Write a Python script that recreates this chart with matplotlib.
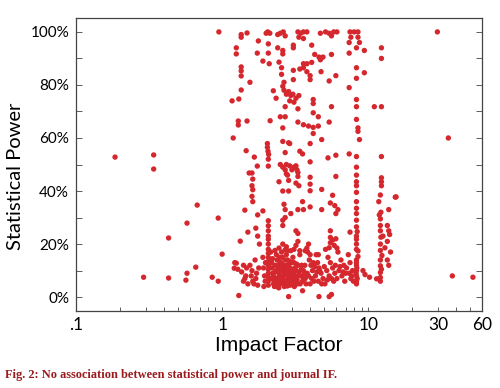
import numpy as np
import matplotlib
matplotlib.use("Agg")
import matplotlib.pyplot as plt
from matplotlib.ticker import FixedLocator, FuncFormatter, LogLocator, NullFormatter

# [impact factor, statistical power %], grouped by region
sparse_left = [[0.185, 52.8], [0.34, 53.6], [0.34, 48.3], [0.95, 100], [0.29, 7.5],
               [0.43, 22.3], [0.43, 7.2], [0.575, 27.9], [0.575, 9.0], [0.565, 6.4],
               [0.675, 34.7], [0.66, 11.3], [0.855, 7.5], [0.94, 29.8], [0.94, 6.0],
               [1.0, 16.2]]

near_one = [[1.25, 94], [1.25, 91.7], [1.35, 99], [1.35, 98], [1.48, 99.6], [1.35, 86.8],
            [1.35, 85.3], [1.35, 83.4], [1.35, 78.1], [1.17, 74], [1.30, 74.7], [1.55, 81],
            [1.29, 66.4], [1.29, 64.9], [1.48, 66.4], [1.19, 60], [1.46, 55.2], [1.53, 46.8],
            [1.33, 21.1], [1.30, 0.6], [1.25, 12.8], [1.21, 10.9], [1.43, 32.8], [1.50, 24.5],
            [1.43, 7], [1.22, 13], [1.28, 10.5], [1.36, 9.5], [1.40, 12], [1.45, 8],
            [1.40, 6], [1.50, 5], [1.47, 11]]

top_band = [[2.0, 99.5], [2.05, 100], [2.12, 99.5], [2.4, 99], [2.5, 99.5], [2.62, 100],
            [2.7, 98.5], [3.3, 100], [3.45, 99.5], [3.6, 100], [3.8, 100], [3.35, 98],
            [3.6, 97.5], [4.7, 99.5], [5.1, 100], [5.4, 99.5], [5.6, 98.5], [5.8, 100],
            [6.1, 100], [7.5, 100], [8.0, 100], [8.5, 100], [7.6, 98], [8.5, 98],
            [1.77, 96.6], [2.07, 95.5], [1.74, 92], [2.07, 92], [2.4, 94], [2.6, 93],
            [2.6, 91.7], [3.07, 95], [3.07, 94], [4.1, 95], [4.3, 91.5], [4.6, 90.5],
            [4.9, 90.5], [4.7, 89.5], [4.1, 88.5], [3.8, 88], [5.6, 91.5], [7.4, 96],
            [7.4, 92], [8.3, 94], [8.7, 96], [9.4, 93], [12.3, 94], [12.3, 90], [29.7, 100],
            [1.9, 89], [2.1, 88], [2.45, 88.6]]

upper_band = [[2.55, 86.5], [2.55, 84], [3.07, 85.5], [3.07, 82], [3.4, 86], [3.6, 88],
              [3.6, 86.5], [3.8, 85], [4.0, 83.5], [4.0, 82], [4.75, 85], [5.4, 81.5],
              [6.0, 83.5], [8.3, 86.5], [8.3, 82.5], [9.4, 84.6], [7.4, 79],
              [2.65, 81], [2.6, 79.5], [2.65, 78], [2.75, 76.5], [2.85, 77.5], [2.95, 76],
              [3.05, 76.5], [3.2, 75], [2.24, 77.8], [2.34, 75], [3.35, 76], [2.9, 74],
              [3.1, 73.5], [4.2, 74.5], [4.2, 73], [2.7, 71.8], [3.3, 71], [5.6, 71.8],
              [8.3, 74.5], [8.3, 71.8], [11.0, 71.8], [12.3, 71.8],
              [2.13, 66.5], [2.5, 68], [2.7, 68], [2.6, 63.8], [4.2, 69.5], [4.55, 68],
              [3.3, 66], [3.6, 65], [3.9, 64.5], [4.2, 64], [4.55, 64.5], [4.2, 61.7],
              [5.4, 66], [8.3, 67], [8.5, 63.8], [8.5, 62.5], [8.7, 59.4], [2.6, 58.7],
              [2.85, 58.2], [2.9, 57.9], [4.0, 57.9], [4.8, 59.4], [2.04, 57.9],
              [2.04, 56.5], [2.06, 55], [2.08, 53.8], [35.3, 60]]

mid_band = [[1.66, 52.8], [1.74, 49.4], [1.6, 46.8], [1.62, 44.5], [1.62, 40.5], [2.07, 52],
            [2.07, 49.4], [2.5, 50], [2.6, 49], [2.7, 48], [2.75, 50], [2.9, 49.5],
            [3.0, 48], [3.1, 49], [3.2, 49.5], [3.25, 48], [3.3, 47], [3.3, 45.5],
            [2.75, 46.5], [2.8, 46], [2.7, 54.5], [3.4, 55], [3.55, 54], [4.0, 51],
            [5.3, 52.5], [6.0, 53.5], [7.4, 54], [8.3, 53], [8.3, 49], [8.3, 46],
            [8.3, 43.5], [8.3, 42], [8.3, 39.5], [12.3, 53], [12.3, 45], [12.3, 43.5],
            [12.3, 42], [12.1, 38.5], [15.5, 37.8], [4.0, 45.2], [4.0, 42.6], [4.0, 40.1],
            [3.35, 42], [4.8, 40.6], [5.7, 38.4], [6.0, 45.5], [2.45, 43.5], [2.6, 40],
            [2.85, 40], [2.85, 44], [3.2, 43], [1.6, 42], [1.6, 38], [1.62, 36]]

lower_band = [[2.65, 35], [2.7, 33], [2.7, 30], [2.95, 31.5], [3.3, 33], [3.55, 36],
              [3.6, 33], [4.0, 34], [4.8, 33], [5.5, 35.5], [5.9, 34.5], [6.0, 31.5],
              [6.2, 33], [8.3, 36], [8.3, 33.5], [8.3, 31.5], [11.8, 36], [12.2, 32],
              [11.9, 31], [1.75, 31], [1.9, 32.5],
              [2.07, 28.8], [2.07, 26.9], [2.07, 25], [2.07, 23], [2.07, 21.8], [2.07, 20],
              [2.07, 18], [2.07, 16.5], [2.07, 15], [2.07, 13.5], [2.07, 12], [2.07, 10.5],
              [2.07, 9], [2.07, 7.5], [2.07, 6], [2.07, 4.5],
              [1.7, 26], [1.75, 23], [1.8, 20], [2.6, 29], [2.6, 27], [2.3, 17.6],
              [2.45, 18.5], [2.6, 20], [2.7, 17.8], [2.75, 19], [2.8, 17.5], [3.2, 25],
              [3.3, 24], [3.3, 21], [2.95, 17.5], [3.1, 18], [3.2, 19.5], [3.4, 17.5],
              [3.9, 20], [3.8, 18.5], [3.7, 17.5], [4.0, 16], [4.55, 16], [5.5, 25],
              [5.5, 22.5], [5.5, 20.5], [5.4, 18.6], [5.7, 21.5], [6.0, 22], [5.85, 19.5],
              [6.1, 18.5], [7.5, 24.5],
              [8.3, 29], [8.3, 26.5], [8.4, 24.7], [8.3, 23], [8.3, 21.8], [8.3, 20],
              [8.3, 18], [8.5, 17.4], [8.5, 15.3],
              [12.1, 29.5], [12.1, 27], [12.1, 25], [12.2, 22.6], [12.1, 20], [12.1, 17.6],
              [12.4, 15.7], [12.1, 14], [12.1, 11.8], [12.3, 10.5], [12.1, 9.3], [12.1, 7.4],
              [12.1, 6], [13.5, 27], [13.8, 25], [13.5, 21], [14.2, 17], [13.5, 14],
              [12.6, 23], [13.0, 18.6], [15.3, 37.7], [13.8, 33], [14.0, 23.6], [13.8, 12]]

dense_band = [[1.55, 12], [1.6, 10], [1.58, 8], [1.62, 6], [1.65, 5], [1.7, 7], [1.72, 9],
              [1.68, 14], [1.75, 4.5], [1.78, 11],
              [1.9, 15], [1.92, 11], [1.95, 8], [1.97, 6], [1.93, 4], [1.98, 13],
              [2.15, 17], [2.18, 13], [2.2, 11], [2.22, 9], [2.17, 7], [2.25, 5], [2.28, 4],
              [2.3, 12], [2.24, 8], [2.27, 6],
              [2.35, 16], [2.38, 14], [2.4, 12], [2.42, 11], [2.36, 10], [2.45, 9], [2.48, 8],
              [2.33, 7], [2.4, 6], [2.46, 5], [2.38, 4], [2.44, 3.5], [2.5, 13], [2.47, 15],
              [2.55, 17], [2.58, 15], [2.52, 13], [2.6, 12], [2.64, 11], [2.56, 10], [2.67, 9],
              [2.62, 8], [2.54, 7], [2.69, 6], [2.6, 5], [2.66, 4], [2.7, 14],
              [2.75, 16], [2.8, 14], [2.85, 12], [2.9, 11], [2.78, 10], [2.95, 9], [2.88, 8],
              [2.82, 7], [2.97, 6], [2.76, 5], [2.92, 4.5], [3.0, 13],
              [3.05, 15], [3.1, 13], [3.15, 11], [3.2, 10], [3.25, 8], [3.08, 7], [3.18, 6],
              [3.28, 5], [3.12, 4], [3.3, 12],
              [3.4, 16], [3.5, 12], [3.6, 10], [3.45, 8], [3.7, 7], [3.55, 6], [3.75, 5],
              [3.65, 9],
              [3.85, 17], [3.95, 14], [4.05, 12], [4.15, 10], [3.9, 8], [4.1, 7], [4.25, 6],
              [4.0, 5], [4.2, 13], [3.82, 9],
              [4.4, 16], [4.5, 13], [4.6, 11], [4.75, 9], [4.35, 8], [4.9, 7], [4.55, 6],
              [4.8, 5], [4.65, 10],
              [5.1, 18], [5.3, 15], [5.5, 13], [5.7, 11], [5.2, 10], [5.9, 9], [5.4, 8],
              [5.6, 7], [5.8, 6], [5.05, 5], [5.95, 12],
              [6.2, 17], [6.5, 14], [6.8, 12], [6.3, 10], [7.0, 9], [6.6, 8], [6.1, 7],
              [6.9, 6], [7.1, 11],
              [7.3, 16], [7.5, 13], [7.8, 10], [7.4, 9], [7.6, 7], [7.9, 6], [7.7, 8],
              [8.3, 14], [8.3, 12], [8.35, 11], [8.3, 10], [8.25, 9], [8.3, 8], [8.4, 7],
              [8.3, 6], [8.3, 5], [8.3, 13],
              [9.5, 8.5], [10.2, 7.5], [11.4, 6.9], [9.2, 10],
              [2.85, 0.2], [3.55, 2.4], [4.6, 0.2], [5.4, 0.2], [5.6, 1.0],
              [37.6, 8], [52, 7.5]]

# extra dots filling the crowded 2-4 block near the bottom
dense_fill = [[2.21, 14.5], [2.31, 9.5], [2.34, 5.5], [2.43, 7.5], [2.51, 10.5], [2.53, 5.5],
              [2.57, 12.5], [2.63, 6.5], [2.68, 10.5], [2.72, 8.5], [2.74, 12], [2.79, 4.2],
              [2.83, 9.5], [2.86, 5.5], [2.89, 13.5], [2.93, 7.5], [2.99, 10.5], [3.03, 5.5],
              [3.07, 9], [3.14, 7.5], [3.22, 12.5], [3.26, 6.5], [3.36, 9.5], [3.42, 5],
              [3.48, 10.5], [3.58, 7.5], [3.68, 12], [3.78, 8], [4.3, 11.5], [4.45, 9.5],
              [5.0, 11.5], [5.25, 6.5], [6.4, 11.5], [6.7, 9.5]]

x_ticks = [0.1, 1, 10, 30, 60]
x_tick_labels = [".1", "1", "10", "30", "60"]
y_ticks = [0, 20, 40, 60, 80, 100]

RED = "#d5282e"

fig = plt.figure(figsize=(5.0, 3.88), dpi=100)
ax = fig.add_axes([0.152, 0.198, 0.812, 0.756])

for group in [sparse_left, near_one, top_band, upper_band, mid_band, lower_band,
              dense_band, dense_fill]:
    pts = np.array(group)
    ax.scatter(pts[:, 0], pts[:, 1], s=15, color=RED, edgecolors="none", zorder=3)

ax.set_xscale("log")
ax.set_xlim(0.1, 60)
ax.set_ylim(-5.3, 105.3)

ax.xaxis.set_major_locator(FixedLocator(x_ticks))
ax.xaxis.set_major_formatter(FuncFormatter(lambda v, p: x_tick_labels[x_ticks.index(v)] if v in x_ticks else ""))
ax.xaxis.set_minor_locator(LogLocator(base=10, subs=np.arange(2, 10)))
ax.xaxis.set_minor_formatter(NullFormatter())
ax.set_yticks(y_ticks)
ax.set_yticks(np.arange(0, 101, 10), minor=True)
ax.yaxis.set_major_formatter(FuncFormatter(lambda v, p: f"{int(v)}%"))

ax.tick_params(axis="x", which="both", direction="in", top=False, length=3, width=0.6,
               pad=4, labelsize=12.5, colors="#444444", labelcolor="black")
ax.tick_params(axis="y", which="both", direction="in", right=True, length=4, width=0.6,
               pad=5, labelsize=11, colors="#444444", labelcolor="black")
for lbl in ax.get_xticklabels() + ax.get_yticklabels():
    lbl.set_family("Lato")

for sp in ax.spines.values():
    sp.set_color("#444444")
    sp.set_linewidth(0.9)

ax.set_xlabel("Impact Factor", fontsize=15, family="Liberation Sans", labelpad=2)
ax.set_ylabel("Statistical Power", fontsize=14.5, family="Lato")
ax.yaxis.set_label_coords(-0.128, 0.46)

fig.text(0.01, 0.025, "Fig. 2: No association between statistical power and journal IF.",
         fontsize=8.9, family="Liberation Serif", weight="bold", color="#9a1b1e")

fig.savefig("out.png", dpi=100)
